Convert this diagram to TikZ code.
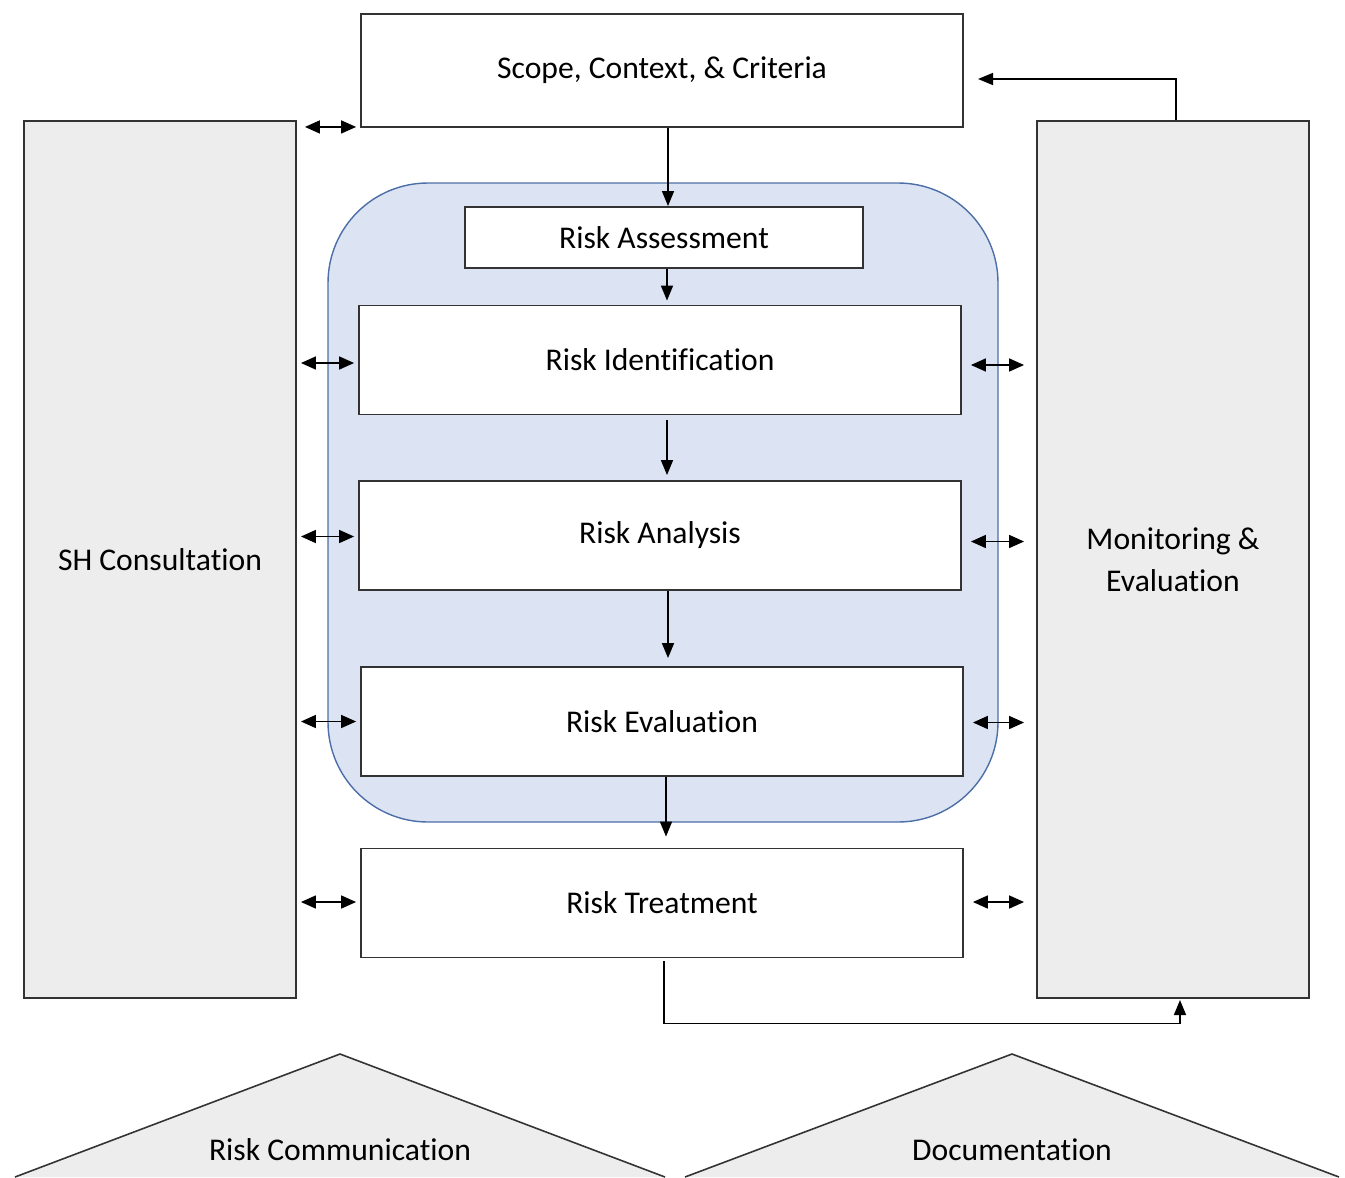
\documentclass[tikz,border=0pt]{standalone}
\usepackage{fontspec}
\setmainfont[Ligatures=NoCommon]{Carlito}
\usetikzlibrary{arrows.meta,calc,positioning}
\definecolor{panelgray}{HTML}{EDEDED}
\definecolor{blockblue}{HTML}{DCE3F2}
\definecolor{blockedge}{HTML}{4D6FA8}

\begin{document}
\begin{tikzpicture}[x=0.02cm,y=-0.02cm,
	every node/.style={font=\fontsize{18}{24}\selectfont},
	stepbox/.style={draw=black!80,line width=1.1pt,fill=white,inner sep=0pt,minimum width=12.04cm,minimum height=2.18cm},
	sidebox/.style={draw=black!80,line width=1.1pt,fill=panelgray,inner sep=0pt,minimum width=5.44cm,minimum height=17.54cm,align=center},
	flow/.style={-{Triangle[length=0.3cm,width=0.24cm]},line width=0.9pt},
	dbl/.style={{Triangle[length=0.3cm,width=0.26cm]}-{Triangle[length=0.3cm,width=0.26cm]},line width=0.9pt}]
	\clip (0,0) rectangle (1345,1177);
	\fill[white] (0,0) rectangle (1345,1177);
	
	% bottom triangles
	\filldraw[fill=panelgray,draw=black!80,line width=0.9pt] (15,1177) -- (340,1054) -- (665,1177);
	\filldraw[fill=panelgray,draw=black!80,line width=0.9pt] (685,1177) -- (1012,1054) -- (1339,1177);
	\node (comm) at (340,1150) {Risk Communication};
	\node (doc) at (1012,1150) {Documentation};
	
	% side panels
	\node[sidebox] (sh) at (160,559.5) {SH Consultation};
	\node[sidebox] (mon) at (1173,559.5) {Monitoring \&\\Evaluation};
	
	% assessment block
	\filldraw[fill=blockblue,draw=blockedge,line width=0.8pt,rounded corners=2cm] (328,183) rectangle (998,822);
	
	\node[stepbox,minimum height=2.26cm] (scope) at (662,70.5) {Scope, Context, \& Criteria};
	\node[stepbox,minimum width=7.96cm,minimum height=1.22cm] (ra) at (664,237.5) {Risk Assessment};
	\node[stepbox] (ri) at (660,360) {Risk Identification};
	\node[stepbox] (ran) at (660,535.5) {Risk Analysis};
	\node[stepbox] (rev) at (662,721.5) {Risk Evaluation};
	\node[stepbox] (rt) at (662,903) {Risk Treatment};
	
	% main flow
	\draw[flow] ($(scope.south)+(6,0)$) -- ($(ra.north)+(4,0)$);
	\draw[flow] ($(ra.south)+(3,0)$) -- ($(ri.north)+(7,-4)$);
	\draw[flow] ($(ri.south)+(7,5)$) -- ($(ran.north)+(7,-5)$);
	\draw[flow] ($(ran.south)+(8,0)$) -- ($(rev.north)+(6,-8)$);
	\draw[flow] ($(rev.south)+(4,0)$) -- ($(rt.north)+(4,-11)$);
	
	% feedback loops
	\coordinate (fbtop) at (978,79);
	\draw[flow] ($(mon.north)+(3,0)$) |- (fbtop);
	\coordinate (fbbot) at (1180,1000);
	\draw[flow] ($(rt.south)+(2,3)$) -- ++(0,62) -| (fbbot);
	
	% links to side panels
	\foreach \n/\dy in {ri/3,ran/1,rev/0,rt/-1}{
		\draw[dbl] ($(sh.east |- \n.west)+(4,\dy)$) -- ($(\n.west |- \n.west)+(-4,\dy)$);
	}
	\draw[dbl] ($(sh.east |- scope.south west)+(8,-1)$) -- ($(scope.south west)+(-4,-1)$);
	\foreach \n/\dy in {ri/5,ran/6,rev/1,rt/-1}{
		\draw[dbl] ($(\n.east)+(9,\dy)$) -- ($(mon.west |- \n.east)+(-12,\dy)$);
	}
\end{tikzpicture}
\end{document}
